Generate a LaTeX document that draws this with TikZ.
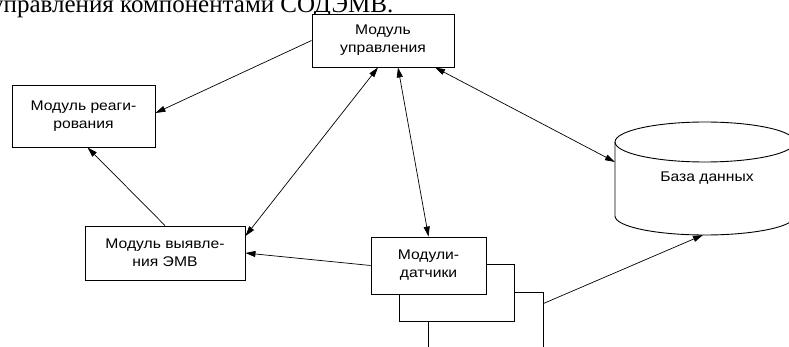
\documentclass[tikz,border=0pt]{standalone}
\usepackage{fontspec}
\setmainfont{Liberation Serif}
\newfontfamily\boxfont[FakeStretch=1.12]{Liberation Sans}
\usetikzlibrary{arrows.meta}

\begin{document}
\begin{tikzpicture}[x=1pt,y=-1pt,
  module/.style={draw, line width=0.9pt, fill=white, align=center,
    font=\boxfont\fontsize{14}{18}\selectfont, inner sep=0pt},
  tip/.tip={Triangle[length=10pt,width=6pt]},
  link/.style={line width=0.7pt, -tip},
  bilink/.style={line width=0.7pt, tip-tip}]
\useasboundingbox (0,0) rectangle (789,347);
\clip (0,0) rectangle (789,347);

% caption line running above the scheme
\node[anchor=base west, inner sep=0pt, font=\fontsize{25}{25}\selectfont]
  (caption) at (-9,12.5) {управления компонентами СОДЭМВ.};

% modules
\node[module, minimum width=142pt, minimum height=53pt] (ctrl) at (383,40.5)
  {Модуль\\управления};
\node[module, minimum width=143pt, minimum height=62pt] (react) at (83.5,116)
  {Модуль реаги-\\рования};
\node[module, minimum width=160pt, minimum height=54pt] (detect) at (165,253)
  {Модуль выявле-\\ния ЭМВ};

% stacked sensor modules, back to front
\node[module, minimum width=115pt, minimum height=57pt] (s3) at (485.5,320.5) {};
\node[module, minimum width=115pt, minimum height=57pt] (s2) at (456.5,292.5) {};
\node[module, minimum width=115pt, minimum height=57pt] (s1) at (428.5,265.5)
  {Модули-\\датчики};

% database cylinder
\draw[line width=0.9pt] (615,142) -- (615,216)
  arc[start angle=180, end angle=360, x radius=90pt, y radius=19pt] -- (795,142);
\draw[line width=0.9pt] (705,142) ellipse[x radius=90pt, y radius=20pt];
\node[font=\boxfont\fontsize{14}{18}\selectfont] (db) at (707,178) {База данных};
\coordinate (dbL) at (615,162);
\coordinate (dbB) at (703,235);

% connections
\draw[link] (ctrl.west) -- ([yshift=3pt]react.east);
\draw[link] (detect.north) -- ([xshift=4pt]react.south);
\draw[bilink] ([xshift=-5pt]ctrl.south) -- ([yshift=17pt]detect.east);
\draw[bilink] ([xshift=15pt]ctrl.south) -- (s1.north);
\draw[bilink] ([xshift=52pt]ctrl.south) -- (dbL);
\draw[link] (s1.west) -- (detect.east);
\draw[link] ([yshift=17pt]s3.east) -- (dbB);
\end{tikzpicture}
\end{document}
